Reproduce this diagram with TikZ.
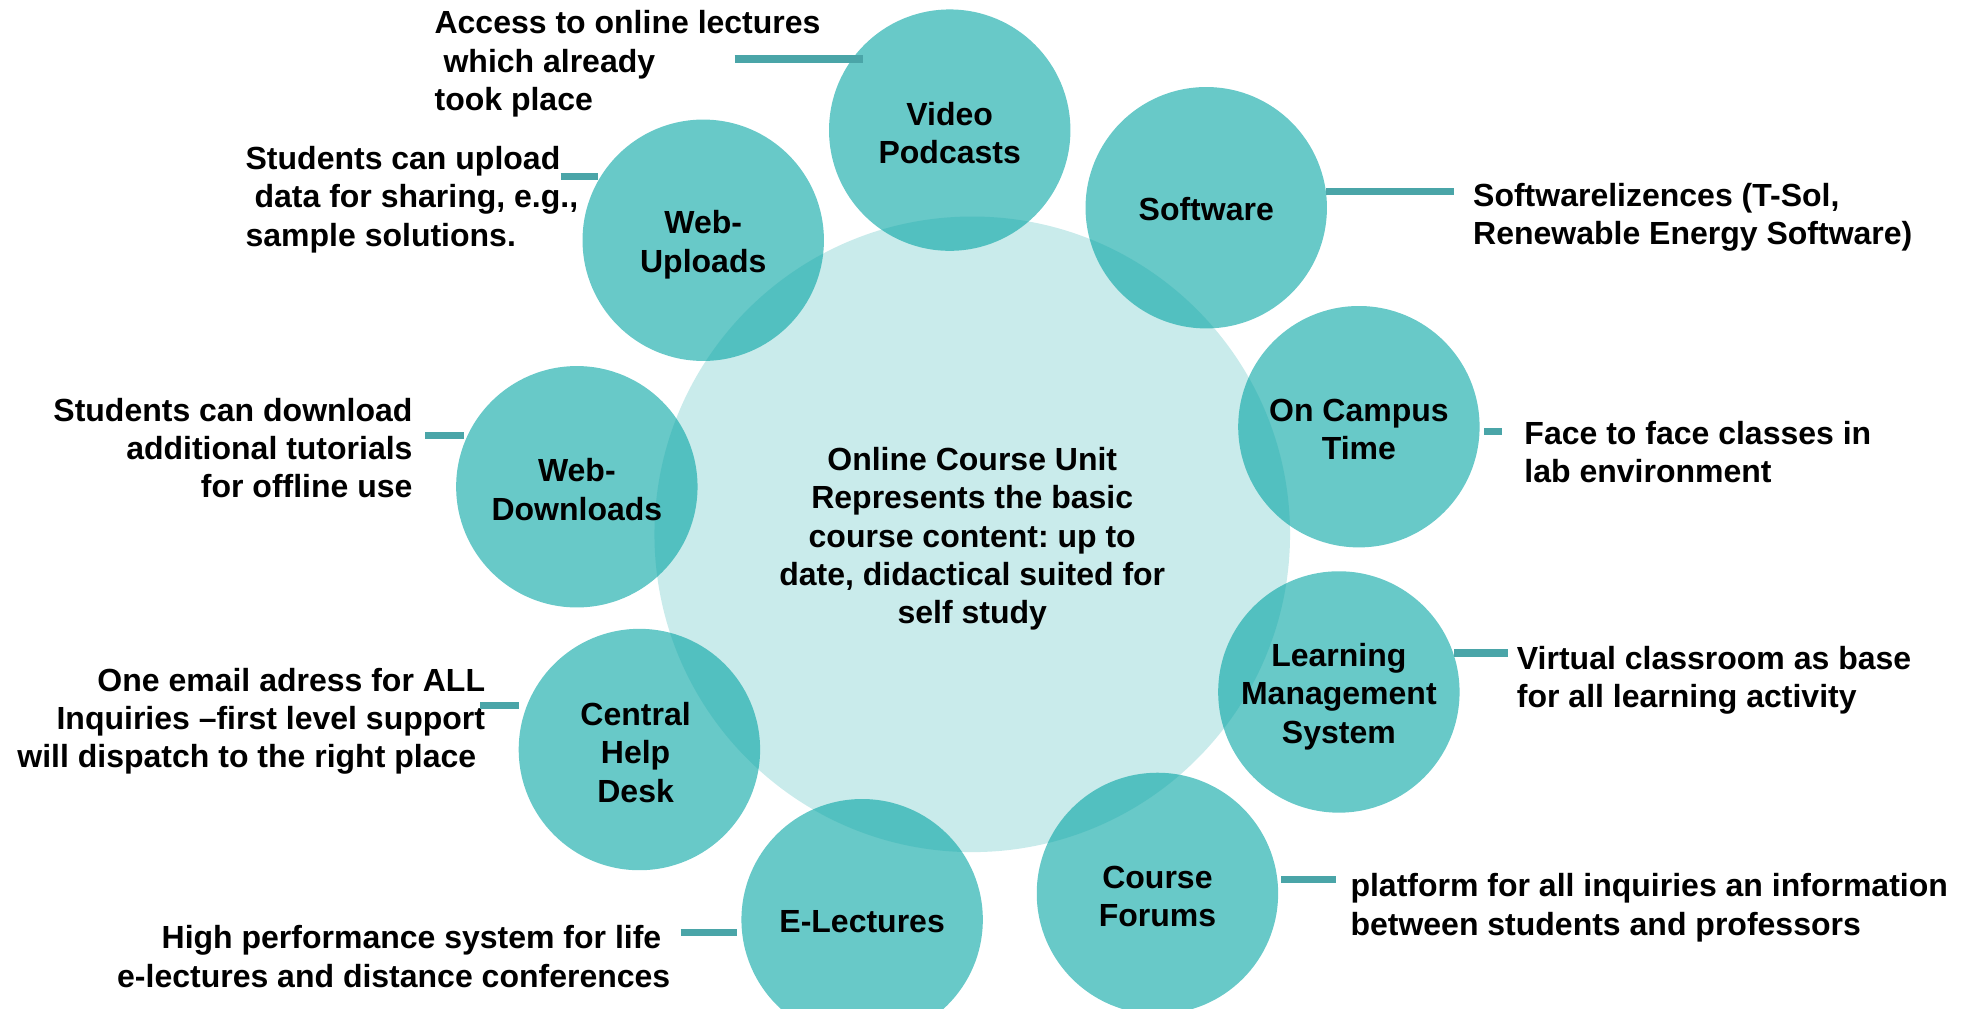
\documentclass[tikz,border=0pt]{standalone}
\usepackage{fontspec}
\setmainfont{Liberation Sans}
\frenchspacing
\definecolor{hubfill}{RGB}{201,235,235}
\definecolor{spokefill}{RGB}{8,166,165}
\definecolor{barcol}{RGB}{74,165,168}
\begin{document}
\begin{tikzpicture}[x=0.62565pt,y=-0.62565pt,
  font=\fontsize{16}{19.2}\selectfont\bfseries,
  hub/.style={circle, fill=hubfill, minimum size=317.8pt, inner sep=0pt},
  spoke/.style={circle, fill=spokefill, fill opacity=0.61,
                minimum size=120.7pt, inner sep=0pt},
  caption/.style={inner sep=0pt, align=center},
  note/.style={inner sep=0pt},
  bar/.style={draw=barcol, line width=3.7pt}]
\useasboundingbox (0,0) rectangle (1568,805.6);

% central course unit
\node[hub] (core) at (777,427) {};
\node[caption] (core-t) at ([yshift=-2.3pt]core.center)
  {Online Course Unit\\Represents the basic\\course content: up to\\date, didactical suited for\\self study};

% surrounding offerings
\node[spoke] (vp)  at (759,104) {};
\node[spoke] (sw)  at (964,166) {};
\node[spoke] (oc)  at (1086,341) {};
\node[spoke] (lms) at (1070,553) {};
\node[spoke] (cf)  at (925,714) {};
\node[spoke] (el)  at (689,735) {};
\node[spoke] (chd) at (511,599) {};
\node[spoke] (wd)  at (461,389) {};
\node[spoke] (wu)  at (562,192) {};

\node[caption] (vp-t)  at ([yshift=-1.4pt]vp.center)  {Video\\Podcasts};
\node[caption] (sw-t)  at ([yshift=-0.7pt]sw.center)  {Software};
\node[caption] (oc-t)  at ([yshift=-1.4pt]oc.center)  {On Campus\\Time};
\node[caption] (lms-t) at ([yshift=-2.2pt]lms.center) {Learning\\Management\\System};
\node[caption] (cf-t)  at ([yshift=-1.4pt]cf.center)  {Course\\Forums};
\node[caption] (el-t)  at ([yshift=-1.2pt]el.center)  {E-Lectures};
\node[caption] (chd-t) at ([xshift=-1.9pt,yshift=-1.4pt]chd.center) {Central\\Help\\Desk};
\node[caption] (wd-t)  at ([yshift=-1.4pt]wd.center)  {Web-\\Downloads};
\node[caption] (wu-t)  at ([yshift=-2.2pt]wu.center)  {Web-\\Uploads};

% descriptions
\node[note, anchor=west, align=left] (n-vp) at (347,51)
  {Access to online lectures\\\hspace*{.28em}which already\\took place};
\node[note, anchor=west, align=left] (n-wu) at (196,159.5)
  {Students can upload\\\hspace*{.28em}data for sharing, e.g.,\\sample solutions.};
\node[note, anchor=east, align=right] (n-wd) at (330,358)
  {Students can download\\additional tutorials\\for offline use};
\node[note, anchor=east, align=right] (n-chd) at (388,576.5)
  {One email adress for ALL\\Inquiries –first level support\hspace*{.28em}\\will dispatch to the right place\hspace*{.28em}};
\node[note, anchor=east, align=right] (n-el) at (536,764.5)
  {High performance system for life\hspace*{.28em}\\e-lectures and distance conferences};
\node[note, anchor=west, align=left] (n-sw) at (1177,173.5)
  {Softwarelizences (T-Sol,\\Renewable Energy Software)};
\node[note, anchor=west, align=left] (n-oc) at (1218,361.5)
  {Face to face classes in\\lab environment};
\node[note, anchor=west, align=left] (n-lms) at (1212,543.5)
  {Virtual classroom as base\\for all learning activity};
\node[note, anchor=west, align=left] (n-cf) at (1079,725.5)
  {platform for all inquiries an information\\between students and professors};

% connector bars
\coordinate (vp-a) at (587,47);    \coordinate (vp-b) at (690,47);
\coordinate (wu-a) at (448,141);   \coordinate (wu-b) at (478,141);
\coordinate (wd-a) at (340,348);   \coordinate (wd-b) at (371,348);
\coordinate (chd-a) at (384,564);  \coordinate (chd-b) at (415,564);
\coordinate (el-a) at (544,745);   \coordinate (el-b) at (589,745);
\coordinate (sw-a) at (1060,153);  \coordinate (sw-b) at (1162,153);
\coordinate (oc-a) at (1186,345);  \coordinate (oc-b) at (1200,345);
\coordinate (lms-a) at (1162,522); \coordinate (lms-b) at (1205,522);
\coordinate (cf-a) at (1024,703);  \coordinate (cf-b) at (1068,703);
\foreach \k in {vp,wu,wd,chd,el,sw,oc,lms,cf}
  \draw[bar] (\k-a) -- (\k-b);
\end{tikzpicture}
\end{document}
